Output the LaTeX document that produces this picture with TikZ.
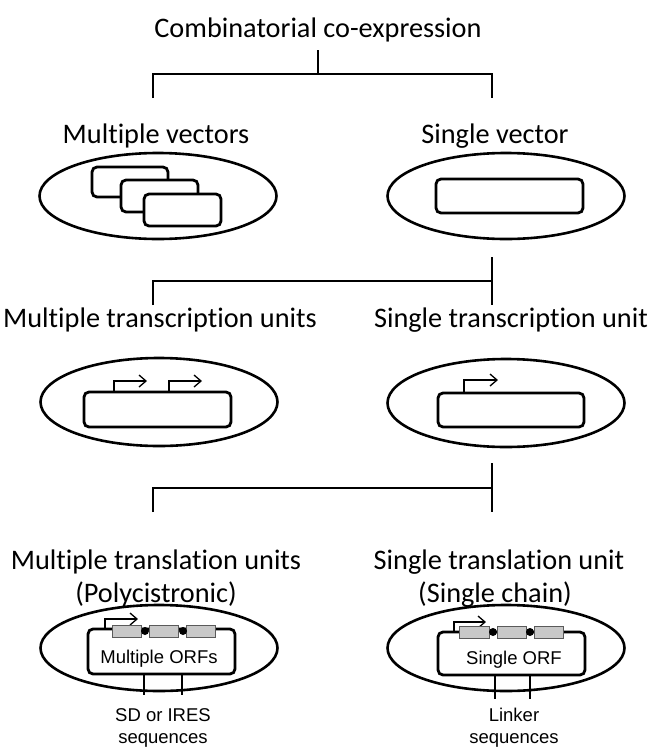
\documentclass[tikz,border=0pt]{standalone}
\usepackage{fontspec}
\setmainfont{Carlito}[RawFeature={-liga;-clig;-calt;-dlig}]
\newfontfamily\arialf{Liberation Sans}
\usetikzlibrary{shapes.geometric,arrows.meta}
\definecolor{boxgray}{RGB}{200,200,200}
\definecolor{edgegray}{RGB}{90,90,90}
\tikzset{
  head/.style={font=\fontsize{28.3}{32}\selectfont, anchor=base, inner sep=0pt},
  small/.style={font=\arialf\fontsize{18.5}{21}\selectfont, anchor=base, inner sep=0pt},
  cell/.style={draw, ellipse, line width=2.6pt, minimum width=237pt, minimum height=86pt, inner sep=0pt},
  vec/.style={draw, fill=white, rounded corners=5pt, line width=2.8pt},
  brk/.style={line width=1.7pt},
  prom/.style={line width=1.3pt, -{Straight Barb[length=7pt,width=12pt]}},
  orf/.style={draw=edgegray, fill=boxgray, line width=0.8pt},
  jn/.style={circle, fill=black, inner sep=0pt, minimum size=8pt},
  tick/.style={line width=1.3pt},
}
\begin{document}
\begin{tikzpicture}[x=1pt,y=-1pt]
\useasboundingbox (0,0) rectangle (652,756);

% titles
\node[head] (title) at (318,37) {Combinatorial co-expression};
\node[head] (mv) at (156,143) {Multiple vectors};
\node[head] (sv) at (495,143) {Single vector};
\node[head] (mtu) at (160,327) {Multiple transcription units};
\node[head] (stu) at (511,327) {Single transcription unit};
\node[head] (mtl) at (156,569) {Multiple translation units};
\node[head] (poly) at (156,602) {(Polycistronic)};
\node[head] (stl) at (499,569) {Single translation unit};
\node[head] (sch) at (495,602) {(Single chain)};

% bracket 1
\coordinate (b1s) at (318,50);
\coordinate (b1m) at (318,74);
\coordinate (b1l) at (153,74);
\coordinate (b1r) at (492,74);
\coordinate (b1ld) at (153,98);
\coordinate (b1rd) at (492,98);
\draw[brk] (b1s) -- (b1m);
\draw[brk] (b1ld) -- (b1l) -- (b1r) -- (b1rd);

% ellipse row 1
\node[cell] (e1) at (158,196) {};
\node[cell] (e2) at (506,196) {};
\draw[vec] (92,167) rectangle (168,197);
\draw[vec] (121,180) rectangle (198,212);
\draw[vec] (144,194) rectangle (221,226);
\node[vec, minimum width=147pt, minimum height=34pt, inner sep=0pt] (r2) at (509.5,196) {};

% bracket 2
\coordinate (b2s) at (492,257);
\coordinate (b2r) at (492,281);
\coordinate (b2l) at (153,281);
\coordinate (b2ld) at (153,305);
\coordinate (b2rd) at (492,305);
\draw[brk] (b2s) -- (b2rd);
\draw[brk] (b2ld) -- (b2l) -- (b2r);

% ellipse row 2
\node[cell, minimum height=88pt] (e3) at (159,402) {};
\node[cell, minimum height=88pt] (e4) at (506,403) {};
\node[vec, minimum width=147pt, minimum height=35pt, inner sep=0pt] (r3) at (157.5,409.5) {};
\node[vec, minimum width=146pt, minimum height=34pt, inner sep=0pt] (r4) at (511,410) {};
\draw[prom] (114,392) |- (147,381);
\draw[prom] (169,392) |- (202,381);
\draw[prom] (464,393) |- (498,380);

% bracket 3
\coordinate (b3s) at (492,463);
\coordinate (b3r) at (492,488);
\coordinate (b3l) at (153,488);
\coordinate (b3ld) at (153,512);
\coordinate (b3rd) at (492,512);
\draw[brk] (b3s) -- (b3rd);
\draw[brk] (b3ld) -- (b3l) -- (b3r);

% ellipse row 3 left
\node[cell] (e5) at (159,648) {};
\node[vec, minimum width=147pt, minimum height=45pt, inner sep=0pt] (r5) at (161.5,651.5) {};
\draw[prom] (105,629) |- (138,619);
\node[orf, minimum width=29pt, minimum height=12pt, inner sep=0pt] (o51) at (126.5,631) {};
\node[orf, minimum width=29pt, minimum height=12pt, inner sep=0pt] (o52) at (163.5,631) {};
\node[orf, minimum width=29pt, minimum height=12pt, inner sep=0pt] (o53) at (200.5,631) {};
\node[jn] (j51) at (145,631) {};
\node[jn] (j52) at (183,631) {};
\node[small] (t5) at (159,663) {Multiple ORFs};
\coordinate (l51) at (144,695);
\coordinate (l52) at (182,695);
\draw[tick] (144,674) -- (l51);
\draw[tick] (182,674) -- (l52);
\node[small] (sd) at (163,721) {SD or IRES};
\node[small] (sq1) at (163,743) {sequences};

% ellipse row 3 right
\node[cell] (e6) at (506,648) {};
\node[vec, minimum width=147pt, minimum height=43pt, inner sep=0pt] (r6) at (511.5,653.5) {};
\draw[prom] (454,632) |- (486,622);
\node[orf, minimum width=30pt, minimum height=12pt, inner sep=0pt] (o61) at (474,632) {};
\node[orf, minimum width=29pt, minimum height=12pt, inner sep=0pt] (o62) at (511.5,632) {};
\node[orf, minimum width=29pt, minimum height=12pt, inner sep=0pt] (o63) at (548.5,632) {};
\node[jn] (j61) at (493,632) {};
\node[jn] (j62) at (530,632) {};
\node[small] (t6) at (514,664) {Single ORF};
\coordinate (l61) at (495,699);
\coordinate (l62) at (530,699);
\draw[tick] (495,675) -- (l61);
\draw[tick] (530,675) -- (l62);
\node[small] (lk) at (514,721) {Linker};
\node[small] (sq2) at (514,743) {sequences};
\end{tikzpicture}
\end{document}
